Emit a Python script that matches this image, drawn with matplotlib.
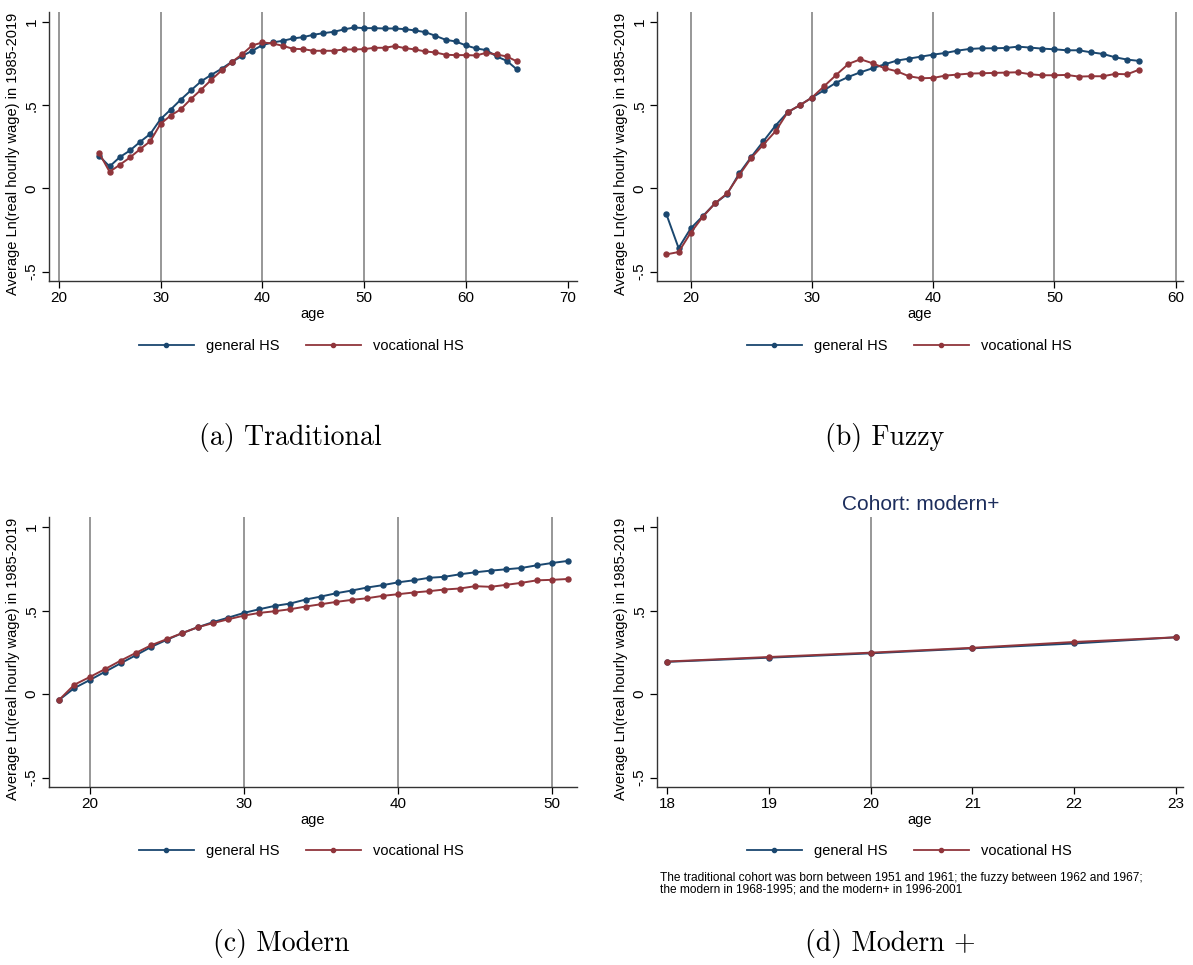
import matplotlib
matplotlib.use('Agg')
import matplotlib.pyplot as plt
from matplotlib.lines import Line2D

plt.rcParams['font.family'] = ['Liberation Sans', 'DejaVu Sans']

# ---- data ----
trad_age = list(range(24, 66))
trad_gen = [0.194, 0.132, 0.188, 0.228, 0.280, 0.328, 0.416, 0.474, 0.534, 0.590,
            0.644, 0.683, 0.719, 0.761, 0.795, 0.827, 0.861, 0.877, 0.887, 0.901,
            0.909, 0.923, 0.933, 0.941, 0.955, 0.967, 0.963, 0.963, 0.961, 0.961,
            0.957, 0.949, 0.939, 0.917, 0.893, 0.883, 0.859, 0.841, 0.831, 0.793,
            0.767, 0.715]
trad_voc = [0.210, 0.100, 0.142, 0.186, 0.236, 0.284, 0.388, 0.438, 0.476, 0.538,
            0.594, 0.653, 0.709, 0.759, 0.805, 0.859, 0.877, 0.871, 0.857, 0.839,
            0.837, 0.827, 0.827, 0.827, 0.835, 0.835, 0.837, 0.845, 0.845, 0.855,
            0.843, 0.835, 0.823, 0.817, 0.803, 0.801, 0.801, 0.799, 0.815, 0.805,
            0.793, 0.763]

fuzzy_age = list(range(18, 58))
fuzzy_gen = [-0.156, -0.358, -0.240, -0.166, -0.090, -0.034, 0.090, 0.190, 0.284, 0.378,
             0.458, 0.500, 0.546, 0.590, 0.636, 0.670, 0.698, 0.722, 0.746, 0.768,
             0.780, 0.792, 0.804, 0.814, 0.828, 0.838, 0.842, 0.842, 0.844, 0.852,
             0.846, 0.840, 0.836, 0.830, 0.830, 0.818, 0.808, 0.788, 0.774, 0.766]
fuzzy_voc = [-0.396, -0.382, -0.266, -0.170, -0.090, -0.030, 0.080, 0.184, 0.264, 0.344,
             0.458, 0.500, 0.546, 0.614, 0.682, 0.748, 0.776, 0.752, 0.722, 0.704,
             0.674, 0.662, 0.664, 0.678, 0.684, 0.690, 0.692, 0.694, 0.696, 0.698,
             0.686, 0.680, 0.680, 0.682, 0.672, 0.674, 0.674, 0.688, 0.686, 0.714]

modern_age = list(range(18, 52))
modern_gen = [-0.036, 0.036, 0.084, 0.134, 0.184, 0.233, 0.283, 0.325, 0.365, 0.400,
              0.431, 0.458, 0.486, 0.508, 0.528, 0.542, 0.566, 0.584, 0.604, 0.620,
              0.638, 0.652, 0.669, 0.681, 0.696, 0.702, 0.717, 0.729, 0.739, 0.747,
              0.755, 0.771, 0.785, 0.797]
modern_voc = [-0.036, 0.056, 0.102, 0.150, 0.200, 0.247, 0.293, 0.329, 0.365, 0.400,
              0.425, 0.448, 0.470, 0.486, 0.496, 0.508, 0.524, 0.538, 0.552, 0.564,
              0.574, 0.588, 0.598, 0.608, 0.616, 0.626, 0.632, 0.646, 0.642, 0.654,
              0.666, 0.681, 0.684, 0.689]

mplus_age = list(range(18, 24))
mplus_gen = [0.193, 0.218, 0.244, 0.274, 0.303, 0.340]
mplus_voc = [0.195, 0.222, 0.248, 0.277, 0.312, 0.340]

series_labels = ['general HS', 'vocational HS']
ytick_vals = [-0.5, 0, 0.5, 1]
ytick_labels = ['-.5', '0', '.5', '1']
ylabel = 'Average Ln(real hourly wage) in 1985-2019'
note = ('The traditional cohort was born between 1951 and 1961; the fuzzy between 1962 and 1967;\n'
        'the modern in 1968-1995; and the modern+ in 1996-2001')

BLUE = '#1a476f'
RED = '#90353b'
GRID = '#8f8f8f'

W, H = 1193, 965
fig = plt.figure(figsize=(W / 100, H / 100), dpi=100)


def px_axes(left, top, right, bottom):
    return fig.add_axes([left / W, 1 - bottom / H, (right - left) / W, (bottom - top) / H])


def panel(box, age, gen, voc, xlim, xticks, legend_xy, caption, caption_xy):
    ax = px_axes(*box)
    ax.set_xlim(*xlim)
    ax.set_ylim(-0.556, 1.06)
    for g in [20, 30, 40, 50, 60]:
        if xlim[0] < g < xlim[1]:
            ax.axvline(g, color=GRID, lw=1.3, zorder=0)
    ax.plot(age, gen, color=BLUE, lw=1.4, marker='o', ms=3.6, zorder=3)
    ax.plot(age, voc, color=RED, lw=1.4, marker='o', ms=3.6, zorder=3)
    for s in ['top', 'right']:
        ax.spines[s].set_visible(False)
    for s in ['left', 'bottom']:
        ax.spines[s].set_color('#333333')
        ax.spines[s].set_linewidth(1.0)
    ax.set_xticks(xticks)
    ax.set_xticklabels([str(t) for t in xticks])
    ax.set_yticks(ytick_vals)
    ax.set_yticklabels(ytick_labels, rotation=90, va='center')
    ax.tick_params(direction='out', length=5, width=0.9, labelsize=11, pad=2.5)
    ax.set_ylabel(ylabel, fontsize=10.5)
    ax.yaxis.set_label_coords(-29 / (box[2] - box[0]), 0.474)
    ax.set_xlabel('age', fontsize=10.5, labelpad=1)
    handles = [Line2D([], [], color=BLUE, lw=1.3, marker='o', ms=3),
               Line2D([], [], color=RED, lw=1.3, marker='o', ms=3)]
    fig.legend(handles, series_labels, loc='center',
               bbox_to_anchor=(legend_xy[0] / W, 1 - legend_xy[1] / H),
               ncol=2, frameon=False, fontsize=10.5, handlelength=3.8,
               handletextpad=0.8, columnspacing=1.8)
    fig.text(caption_xy[0] / W, 1 - caption_xy[1] / H, caption, ha='center', va='center',
             family=['cmr10', 'DejaVu Serif'], fontsize=20)
    return ax


panel((49, 12, 577, 281), trad_age, trad_gen, trad_voc, (19.05, 70.9),
      [20, 30, 40, 50, 60, 70], (301, 346), '(a) Traditional', (290, 438))
panel((657, 12, 1183, 281), fuzzy_age, fuzzy_gen, fuzzy_voc, (17.22, 60.6),
      [20, 30, 40, 50, 60], (909, 346), '(b) Fuzzy', (885, 438))
panel((49, 517, 577, 787), modern_age, modern_gen, modern_voc, (17.36, 51.6),
      [20, 30, 40, 50], (301, 851), '(c) Modern', (281, 943))
ax_d = panel((657, 517, 1183, 787), mplus_age, mplus_gen, mplus_voc, (17.9, 23.07),
             [18, 19, 20, 21, 22, 23], (909, 851), '(d) Modern +', (890, 943))

fig.text(921 / W, 1 - 505 / H, 'Cohort: modern+', ha='center', va='center',
         color='#1c2d5c', fontsize=15)
fig.text(660 / W, 1 - 872 / H, note, ha='left', va='top', fontsize=8.6, linespacing=0.95)

fig.savefig('out.png', dpi=100, facecolor='white')
